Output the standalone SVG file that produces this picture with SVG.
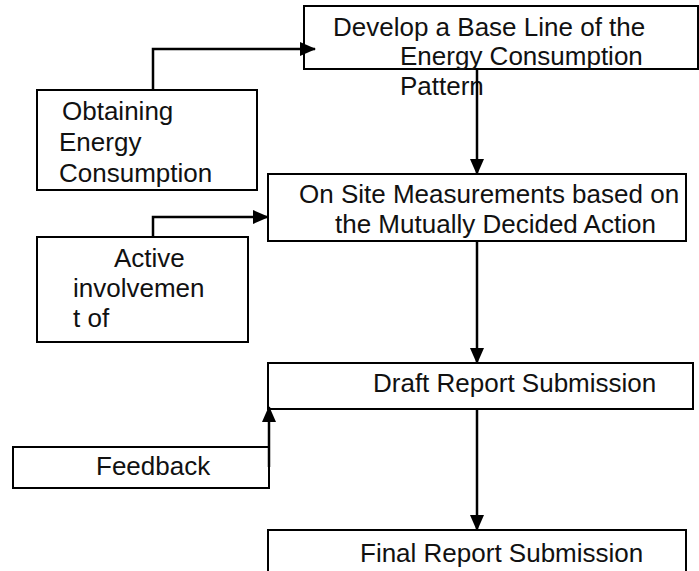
<svg xmlns="http://www.w3.org/2000/svg" width="699" height="571" viewBox="0 0 699 571">
<style>
.box{fill:#fff;stroke:#000;stroke-width:2}
.t{font-family:"Liberation Sans",Arial,sans-serif;font-size:26px;fill:#111}
.c{fill:none;stroke:#000;stroke-width:2.5}
</style>
<defs>
<marker id="ah" viewBox="0 0 16 14" refX="15" refY="7" markerWidth="16" markerHeight="14" markerUnits="userSpaceOnUse" orient="auto">
<path d="M0,0 L16,7 L0,14 Z" fill="#000"/>
</marker>
</defs>
<rect width="699" height="571" fill="#fff"/>
<g id="develop">
<rect class="box" x="304" y="6" width="394" height="63"/>
</g>
<g id="obtaining">
<rect class="box" x="37" y="90" width="220" height="100"/>
<text class="t" x="62" y="120">Obtaining</text>
<text class="t" x="59" y="151">Energy</text>
<text class="t" x="59" y="182">Consumption</text>
</g>
<g id="onsite">
<rect class="box" x="268" y="174" width="418" height="67"/>
<text class="t" x="299" y="203">On Site Measurements based on</text>
<text class="t" x="335" y="233">the Mutually Decided Action</text>
</g>
<g id="active">
<rect class="box" x="37" y="237" width="211" height="105"/>
<text class="t" x="114" y="267">Active</text>
<text class="t" x="73" y="297">involvemen</text>
<text class="t" x="73" y="327">t of</text>
</g>
<g id="draft">
<rect class="box" x="268" y="363" width="425" height="46"/>
<text class="t" x="373" y="392">Draft Report Submission</text>
</g>
<g id="feedback">
<rect class="box" x="13" y="447" width="256" height="41"/>
<text class="t" x="96" y="475">Feedback</text>
</g>
<g id="final">
<rect class="box" x="268" y="530" width="418" height="45"/>
<text class="t" x="360" y="562">Final Report Submission</text>
</g>
<g id="develop-text">
<text class="t" x="333" y="36">Develop a Base Line of the</text>
<text class="t" x="400" y="65">Energy Consumption</text>
<text class="t" x="400" y="95">Pattern</text>
</g>
<g id="connectors">
<path class="c" d="M153,90 V49 H315" marker-end="url(#ah)"/>
<path class="c" d="M477,69 V174" marker-end="url(#ah)"/>
<path class="c" d="M153,237 V217 H268" marker-end="url(#ah)"/>
<path class="c" d="M477,241 V363" marker-end="url(#ah)"/>
<path class="c" d="M269,467 V407" marker-end="url(#ah)"/>
<path class="c" d="M477,409 V530" marker-end="url(#ah)"/>
</g>
</svg>
